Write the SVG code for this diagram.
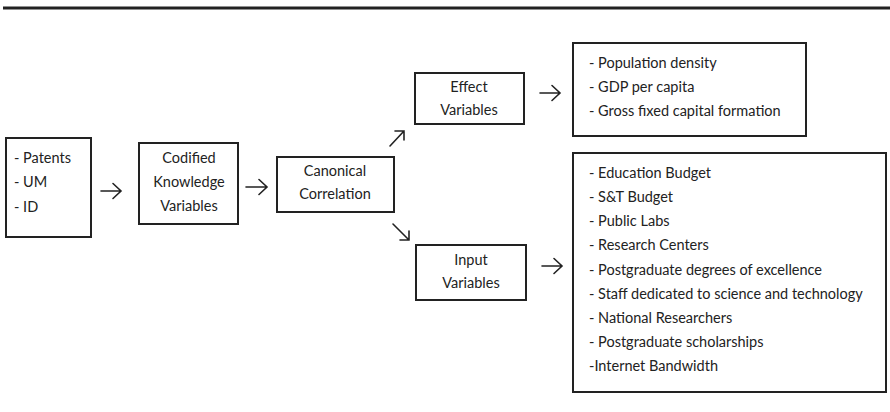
<svg xmlns="http://www.w3.org/2000/svg" width="890" height="412" viewBox="0 0 890 412">
<style>
.box{fill:#fff;stroke:#222;stroke-width:2}
.t{font-family:Lato,"Open Sans",sans-serif;font-size:14.5px;fill:#222}
.c{text-anchor:middle}
.ar{fill:none;stroke:#222;stroke-width:1.6;stroke-linecap:round;stroke-linejoin:miter}
</style>
<rect x="0" width="890" height="412" fill="#fff"/>
<line x1="3" y1="8" x2="890" y2="8" stroke="#222" stroke-width="3"/>
<g id="sources">
<rect class="box" x="6" y="138" width="85" height="99"/>
<text class="t" x="14" y="163">- Patents</text>
<text class="t" x="14" y="187">- UM</text>
<text class="t" x="14" y="212">- ID</text>
</g>
<g id="codified">
<rect class="box" x="139" y="143" width="99" height="81"/>
<text class="t c" x="189" y="163">Codified</text>
<text class="t c" x="189" y="187">Knowledge</text>
<text class="t c" x="189" y="211">Variables</text>
</g>
<g id="canonical">
<rect class="box" x="277" y="157" width="117" height="55"/>
<text class="t c" x="335" y="176">Canonical</text>
<text class="t c" x="335" y="199">Correlation</text>
</g>
<g id="effect">
<rect class="box" x="415" y="73" width="109" height="51"/>
<text class="t c" x="469" y="92">Effect</text>
<text class="t c" x="469" y="115">Variables</text>
</g>
<g id="input">
<rect class="box" x="416" y="245" width="110" height="55"/>
<text class="t c" x="471" y="265">Input</text>
<text class="t c" x="471" y="288">Variables</text>
</g>
<g id="effect-list">
<rect class="box" x="573" y="43" width="233" height="93"/>
<text class="t" x="589" y="68">- Population density</text>
<text class="t" x="589" y="92">- GDP per capita</text>
<text class="t" x="589" y="116">- Gross fixed capital formation</text>
</g>
<g id="input-list">
<rect class="box" x="573" y="153" width="313" height="239"/>
<text class="t" x="589" y="178">- Education Budget</text>
<text class="t" x="589" y="202">- S&amp;T Budget</text>
<text class="t" x="589" y="226">- Public Labs</text>
<text class="t" x="589" y="250">- Research Centers</text>
<text class="t" x="589" y="275">- Postgraduate degrees of excellence</text>
<text class="t" x="589" y="299">- Staff dedicated to science and technology</text>
<text class="t" x="589" y="323">- National Researchers</text>
<text class="t" x="589" y="347">- Postgraduate scholarships</text>
<text class="t" x="589" y="371">-Internet Bandwidth</text>
</g>
<g id="connectors">
<path class="ar" d="M101 191H121M113 183.5L121 191L113 198.5"/>
<path class="ar" d="M246 187H267M259 179.5L267 187L259 194.5"/>
<path class="ar" d="M390 146L404 131M395 131H404V140"/>
<path class="ar" d="M393 224L409 240M409 231V240H400"/>
<path class="ar" d="M540 93H560M552 85.5L560 93L552 100.5"/>
<path class="ar" d="M542 266H562M554 258.5L562 266L554 273.5"/>
</g>
</svg>
